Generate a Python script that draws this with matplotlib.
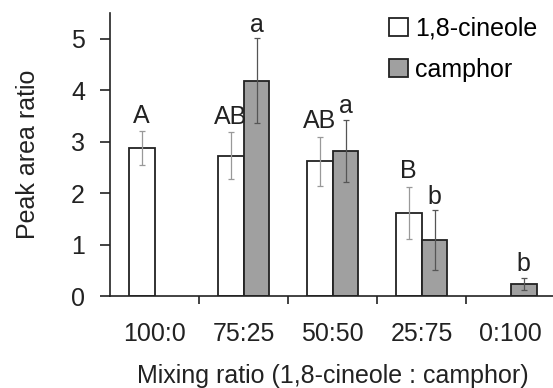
import numpy as np
import matplotlib
matplotlib.use('Agg')
import matplotlib.pyplot as plt

plt.rcParams['font.family'] = ['Liberation Sans', 'DejaVu Sans']

# data
ratios = ['100:0', '75:25', '50:50', '25:75', '0:100']
cineole = [2.87, 2.73, 2.62, 1.62, np.nan]
cineole_err = [0.33, 0.46, 0.48, 0.51, np.nan]
camphor = [np.nan, 4.19, 2.82, 1.09, 0.24]
camphor_err = [np.nan, 0.83, 0.61, 0.58, 0.12]
cineole_letters = ['A', 'AB', 'AB', 'B', '']
camphor_letters = ['', 'a', 'a', 'b', 'b']

fs = 18
fig = plt.figure(figsize=(5.53, 3.88), dpi=100)
ax = fig.add_axes([0.199, 0.237, 0.805, 0.729])

x = np.arange(len(ratios))
w = 0.29

for i in range(len(ratios)):
    if not np.isnan(cineole[i]):
        ax.bar(x[i] - w / 2, cineole[i], w, color='white', edgecolor='#222222', linewidth=1.3,
               label='1,8-cineole' if i == 0 else None, zorder=2)
        ax.errorbar(x[i] - w / 2, cineole[i], yerr=cineole_err[i], fmt='none',
                    ecolor='#999999', elinewidth=0.9, capsize=2.5, capthick=0.9, zorder=3)
        ax.text(x[i] - w / 2, cineole[i] + cineole_err[i] + 0.16, cineole_letters[i],
                ha='center', va='baseline', fontsize=fs, color='#222222')
    if not np.isnan(camphor[i]):
        ax.bar(x[i] + w / 2, camphor[i], w, color='#a0a0a0', edgecolor='#222222', linewidth=1.3,
               label='camphor' if i == 1 else None, zorder=2)
        ax.errorbar(x[i] + w / 2, camphor[i], yerr=camphor_err[i], fmt='none',
                    ecolor='#555555', elinewidth=0.9, capsize=2.5, capthick=0.9, zorder=3)
        ax.text(x[i] + w / 2, camphor[i] + camphor_err[i] + 0.12, camphor_letters[i],
                ha='center', va='baseline', fontsize=fs, color='#222222')

ax.set_xlim(-0.5, 4.5)
ax.set_ylim(0, 5.5)
ax.set_yticks([0, 1, 2, 3, 4, 5])
ax.set_xticks(x)
ax.set_xticklabels(ratios)
ax.set_xticks(np.arange(0.5, 4.5, 1), minor=True)
ax.tick_params(axis='x', which='major', length=0, labelsize=fs, pad=19, colors='#222222')
ax.tick_params(axis='x', which='minor', length=6, width=1.2, direction='out', color='#222222')
ax.tick_params(axis='y', length=7, width=1.2, labelsize=fs, pad=11, colors='#222222')

ax.spines['top'].set_visible(False)
ax.spines['right'].set_visible(False)
ax.spines['left'].set_linewidth(1.2)
ax.spines['bottom'].set_linewidth(1.2)
ax.spines['left'].set_color('#222222')
ax.spines['bottom'].set_color('#222222')

ax.set_ylabel('Peak area ratio', fontsize=fs, labelpad=22, color='#222222')
ax.set_xlabel('Mixing ratio (1,8-cineole : camphor)', fontsize=fs, labelpad=13, color='#222222')

ax.legend(loc='upper right', bbox_to_anchor=(1.0, 1.05), frameon=False, fontsize=fs,
          handlelength=0.75, handleheight=0.75, handletextpad=0.3, labelspacing=0.7,
          borderaxespad=0.3)

fig.savefig('out.png', dpi=100)
